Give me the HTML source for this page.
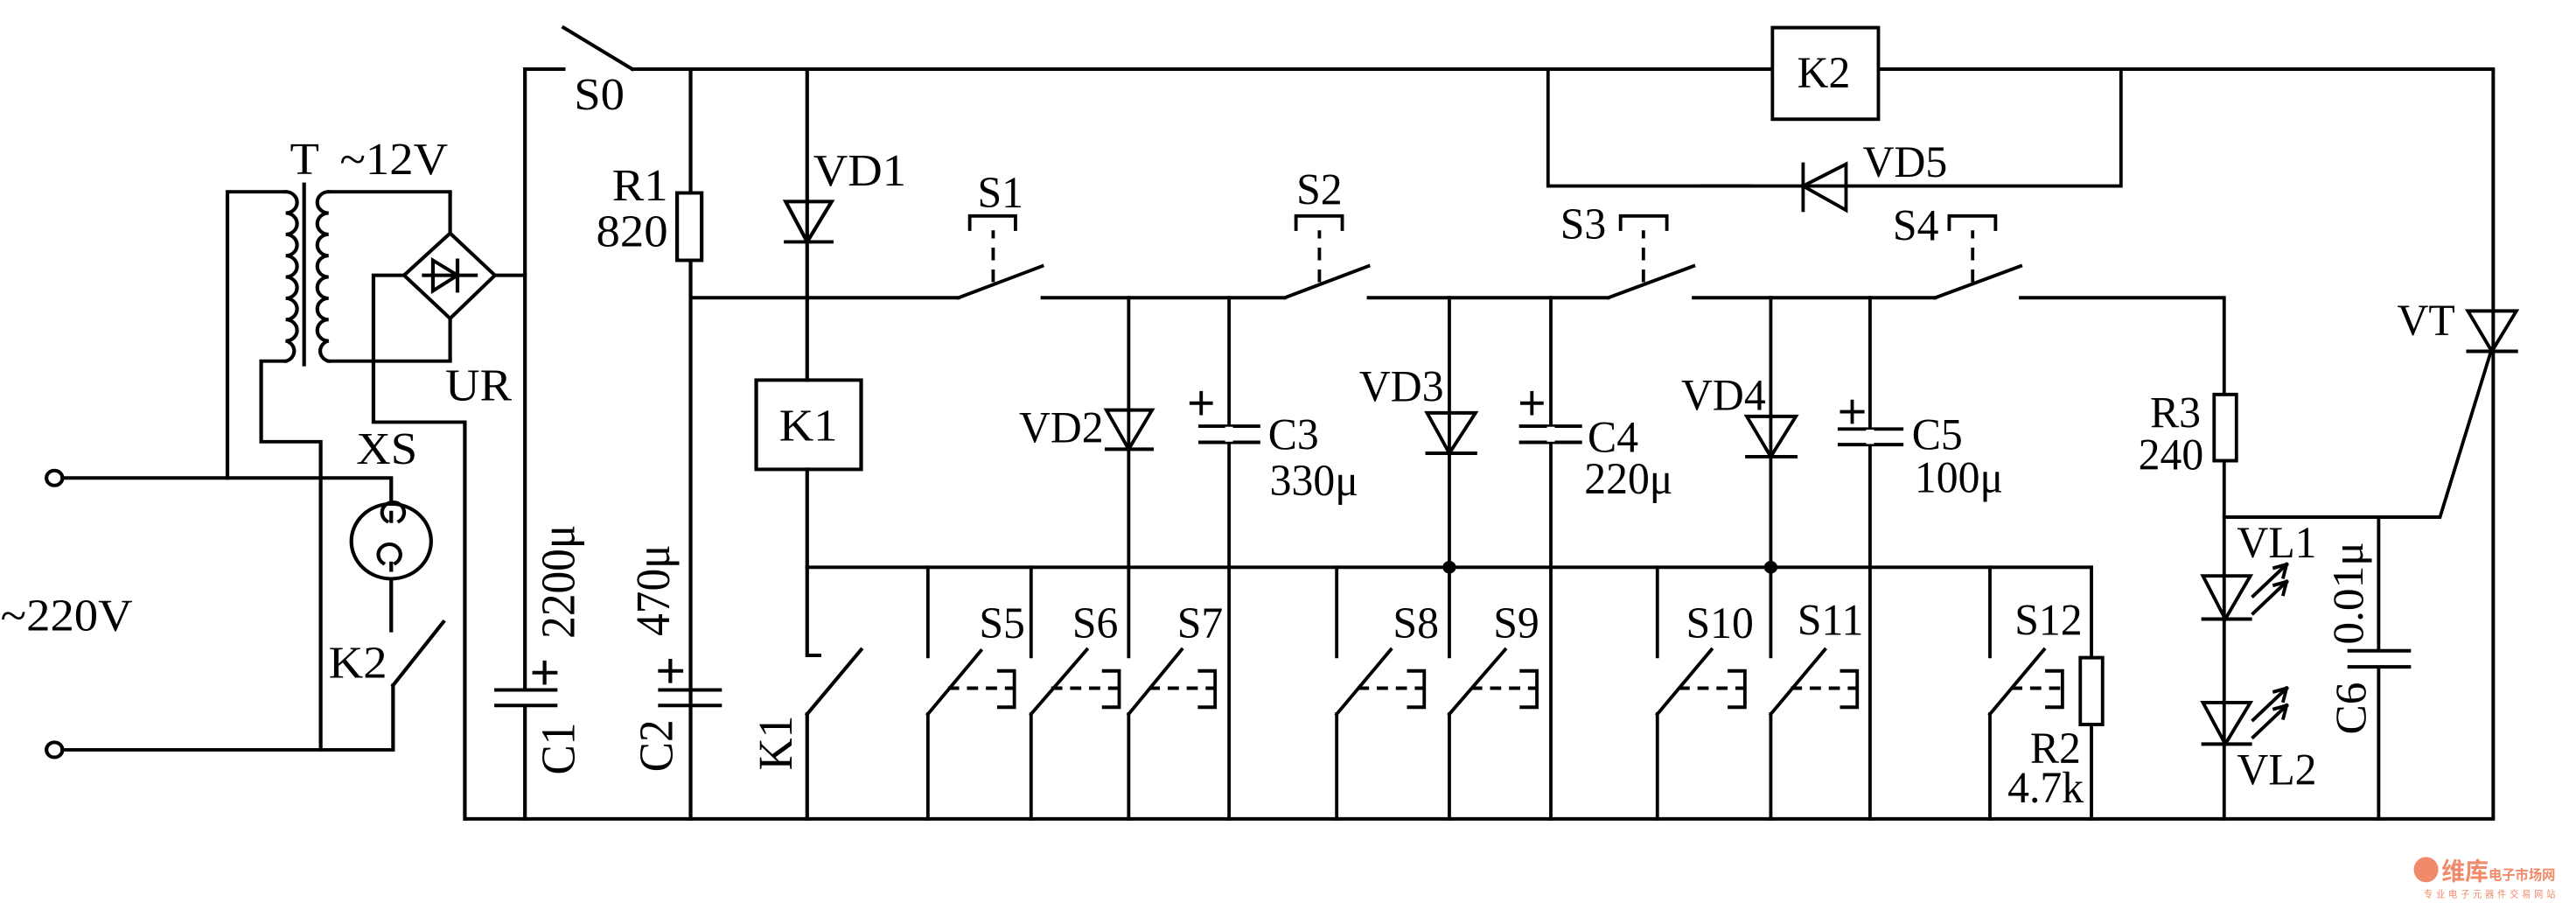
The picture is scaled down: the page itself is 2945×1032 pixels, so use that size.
<!DOCTYPE html>
<html><head><meta charset="utf-8"><style>
html,body{margin:0;padding:0;background:#fff;}
svg{display:block;}
text{font-family:"Liberation Serif",serif;font-size:78px;fill:#000;}
</style></head><body>
<svg width="2945" height="1032" viewBox="0 0 4473 1568" xmlns="http://www.w3.org/2000/svg">
<g fill="none" stroke="#000" stroke-width="6" stroke-linecap="square">
<path d="M1098 120H4330V1422 M807 1422H4330"/>
<path d="M1199 517H1664"/>
<path d="M2941 517H3361"/>
<path d="M1401 985H3632"/>
</g>

<g transform="scale(1.0656,1)">
<g fill="none" stroke="#000" stroke-width="6" stroke-linecap="square">
<path d="M855 120H918 M918 48L1030 120"/>
<path d="M855 120V1422"/>
<path d="M757 1422V733H608V478H658"/>
<path d="M658 478L733 405L806 478L733 553Z"/>
<path d="M690 478H775 M705 452V505L745 478Z M745 452V505"/>
<path d="M806 478H855"/>
<path d="M733 405V333H535 M535 627H733V553"/>
<path d="M535 333 a18 18 0 0 0 0 37 a18 18 0 0 0 0 37 a18 18 0 0 0 0 37 a18 18 0 0 0 0 37 a18 18 0 0 0 0 37 a18 18 0 0 0 0 37 a18 18 0 0 0 0 37 a18 18 0 0 0 0 35"/>
<path d="M495 320V633"/>
<path d="M465 333 a18 18 0 0 1 0 37 a18 18 0 0 1 0 37 a18 18 0 0 1 0 37 a18 18 0 0 1 0 37 a18 18 0 0 1 0 37 a18 18 0 0 1 0 37 a18 18 0 0 1 0 37 a18 18 0 0 1 0 35"/>
<path d="M465 333H370V830 M465 627H425V767H522V1302"/>
<circle cx="88" cy="830" r="13"/><circle cx="88" cy="1302" r="13"/>
<path d="M101 830H637V875 M637 1005V1095 M101 1302H640V1190 M640 1190L722 1080"/>
<circle cx="637" cy="940" r="65"/>
<path d="M650 905a18 18 0 1 0 -20 0 M637 890V905 M624 978a18 18 0 1 1 20 0 M637 978V990"/>
<path d="M855 1198V1225" stroke="#fff" stroke-width="20" stroke-linecap="butt"/>
<path d="M808 1198H905 M808 1225H905"/>
<path d="M1125 1198V1225" stroke="#fff" stroke-width="20" stroke-linecap="butt"/>
<path d="M1075 1198H1173 M1075 1225H1173"/>
<path d="M870 1168H905 M887 1150V1186 M1075 1165H1110 M1092 1147V1183"/>
<path d="M1125 120V1422"/>
<rect x="1103" y="335" width="40" height="117" fill="#fff"/>
<path d="M1315 120V660 M1280 350H1355L1315 420Z M1280 420H1355"/>
<rect x="1232" y="660" width="171" height="155"/>
<path d="M1315 815V1138H1335 M1315 1240L1403 1128 M1315 1240V1422"/>
</g>
<text x="935" y="190">S0</text>
<text x="472" y="302">T</text>
<text x="553" y="302">~12V</text>
<text x="725" y="695">UR</text>
<text x="580" y="805">XS</text>
<text x="535" y="1177">K2</text>
<text x="0" y="1095">~220V</text>
<text x="1088" y="348" text-anchor="end">R1</text>
<text x="1088" y="428" text-anchor="end">820</text>
<text x="1325" y="322">VD1</text>
<text x="1317" y="765" text-anchor="middle">K1</text>
<text transform="translate(935 1010) rotate(-90)" text-anchor="middle">2200μ</text>
<text transform="translate(935 1300) rotate(-90)" text-anchor="middle">C1</text>
<text transform="translate(1090 1025) rotate(-90)" text-anchor="middle">470μ</text>
<text transform="translate(1095 1295) rotate(-90)" text-anchor="middle">C2</text>
<text transform="translate(1290 1290) rotate(-90)" text-anchor="middle">K1</text>
</g>

<g transform="translate(1519,0) scale(0.9687,1)">
<g fill="none" stroke="#000" stroke-width="6" stroke-linecap="square">
<path d="M150 517L300 462 M300 517H735 M735 517L885 462 M885 517H1315 M1315 517L1468 462"/>
<path d="M212 490V400 M797 490V400 M1378 490V400" stroke-dasharray="22 16" stroke-linecap="butt"/>
<path d="M170 398V375H252V398 M755 398V375H838V398 M1337 398V375H1420V398"/>
<path d="M1207 120V323H1568"/>
<path d="M455 517V1140 M415 712H497L455 780Z M415 780H497"/>
<path d="M635 517V1422"/>
<path d="M583 740H688 M583 768H688"/><path d="M635 741V767" stroke="#fff" stroke-width="14" stroke-linecap="butt"/>
<path d="M567 700H603 M585 682V718"/>
<path d="M1030 517V1140 M990 717H1077L1030 787Z M990 787H1077"/>
<path d="M1212 517V1422"/>
<path d="M1158 740H1265 M1158 768H1265"/><path d="M1212 741V767" stroke="#fff" stroke-width="14" stroke-linecap="butt"/>
<path d="M1160 700H1196 M1178 682V718"/>
<path d="M95 985V1140 M95 1240L190 1130 M95 1240V1422 M280 985V1140 M280 1240L380 1128 M280 1240V1422 M455 1240L550 1128 M455 1240V1422 M828 985V1140 M828 1240L925 1128 M828 1240V1422 M1030 1240L1130 1128 M1030 1240V1422 M1403 985V1140 M1403 1240L1500 1128 M1403 1240V1422"/>
<path d="M131 1195H250 M316 1195H438 M491 1195H610 M866 1195H985 M1069 1195H1187 M1441 1195H1560" stroke-dasharray="20 14" stroke-linecap="butt"/>
<path d="M222 1165H250V1228H222 M410 1165H438V1228H410 M582 1165H610V1228H582 M957 1165H985V1228H957 M1159 1165H1187V1228H1159 M1532 1165H1560V1228H1532"/>
</g>
<ellipse cx="1030" cy="985" rx="12" ry="11" fill="#000"/>
<text x="225" y="360" text-anchor="middle">S1</text>
<text x="797" y="355" text-anchor="middle">S2</text>
<text x="1270" y="415" text-anchor="middle">S3</text>
<text x="410" y="768" text-anchor="end">VD2</text>
<text x="705" y="780">C3</text>
<text x="708" y="860">330μ</text>
<text x="1020" y="697" text-anchor="end">VD3</text>
<text x="1278" y="785">C4</text>
<text x="1272" y="857">220μ</text>
<text x="228" y="1108" text-anchor="middle">S5</text>
<text x="395" y="1108" text-anchor="middle">S6</text>
<text x="583" y="1108" text-anchor="middle">S7</text>
<text x="970" y="1108" text-anchor="middle">S8</text>
<text x="1150" y="1108" text-anchor="middle">S9</text>
<text x="1515" y="1108" text-anchor="middle">S10</text>
</g>

<g transform="translate(2954,0) scale(0.9687,1)">
<g fill="none" stroke="#000" stroke-width="6" stroke-linecap="square">
<rect x="128" y="48" width="190" height="159" fill="#fff"/>
<path d="M753 120V323H0"/>
<path d="M183 285V365 M260 285V365L183 323Z"/>
<path d="M420 517L573 462 M573 517H938V1422"/>
<path d="M487 490V400" stroke-dasharray="22 16" stroke-linecap="butt"/>
<path d="M445 398V375H528V398"/>
<path d="M125 517V1140 M82 723H170L125 793Z M82 793H170"/>
<path d="M303 517V1422"/>
<path d="M248 745H360 M248 772H360"/><path d="M303 746V771" stroke="#fff" stroke-width="14" stroke-linecap="butt"/>
<path d="M252 715H290 M271 697V733"/>
<path d="M125 1240L222 1128 M125 1240V1422 M518 985V1140 M518 1240L615 1128 M518 1240V1422"/>
<path d="M161 1195H280 M556 1195H648" stroke-dasharray="20 14" stroke-linecap="butt"/>
<path d="M252 1165H280V1228H252 M620 1165H648V1228H620"/>
<path d="M700 985V1142"/>
<rect x="680" y="1142" width="40" height="116" fill="#fff"/>
<path d="M700 1258V1422"/>
<rect x="920" y="685" width="40" height="115" fill="#fff"/>
<path d="M938 898H1325L1418 605"/>
<path d="M1375 540H1462L1418 610Z M1375 610H1462"/>
<path d="M900 1000H985L940 1075Z M900 1075H985 M900 1220H985L940 1292Z M900 1292H985"/>
<path d="M990 1035L1050 980 M990 1065L1050 1010 M990 1250L1050 1195 M990 1280L1050 1225"/>
<path d="M1050 980l-22 6 M1050 980l-6 22 M1050 1010l-22 6 M1050 1010l-6 22 M1050 1195l-22 6 M1050 1195l-6 22 M1050 1225l-22 6 M1050 1225l-6 22"/>
<path d="M1215 898V1130 M1215 1158V1422 M1162 1130H1270 M1162 1158H1270"/>
</g>
<ellipse cx="125" cy="985" rx="12" ry="11" fill="#000"/>
<text x="385" y="417" text-anchor="middle">S4</text>
<text x="220" y="152" text-anchor="middle">K2</text>
<text x="290" y="307">VD5</text>
<text x="116" y="712" text-anchor="end">VD4</text>
<text x="378" y="780">C5</text>
<text x="383" y="855">100μ</text>
<text x="232" y="1102" text-anchor="middle">S11</text>
<text x="623" y="1102" text-anchor="middle">S12</text>
<text x="681" y="1325" text-anchor="end">R2</text>
<text x="686" y="1393" text-anchor="end">4.7k</text>
<text x="896" y="742" text-anchor="end">R3</text>
<text x="901" y="815" text-anchor="end">240</text>
<text x="1352" y="582" text-anchor="end">VT</text>
<text x="961" y="968">VL1</text>
<text x="961" y="1362">VL2</text>
<text transform="translate(1186 1030) rotate(-90)" text-anchor="middle">0.01μ</text>
<text transform="translate(1191 1230) rotate(-90)" text-anchor="middle">C6</text>
<circle cx="1300" cy="1510" r="22" fill="#f08a6a"/>
<text x="1328" y="1528" style="font-family:'Liberation Sans','Noto Sans CJK SC',sans-serif;font-size:42px;font-weight:bold;fill:#f08a6a">维库<tspan style="font-size:24px">电子市场网</tspan></text>
<text x="1296" y="1558" style="font-family:'Liberation Sans','Noto Sans CJK SC',sans-serif;font-size:16px;fill:#f08a6a;letter-spacing:6px">专业电子元器件交易网站</text>
</g>
</svg>
</body></html>
